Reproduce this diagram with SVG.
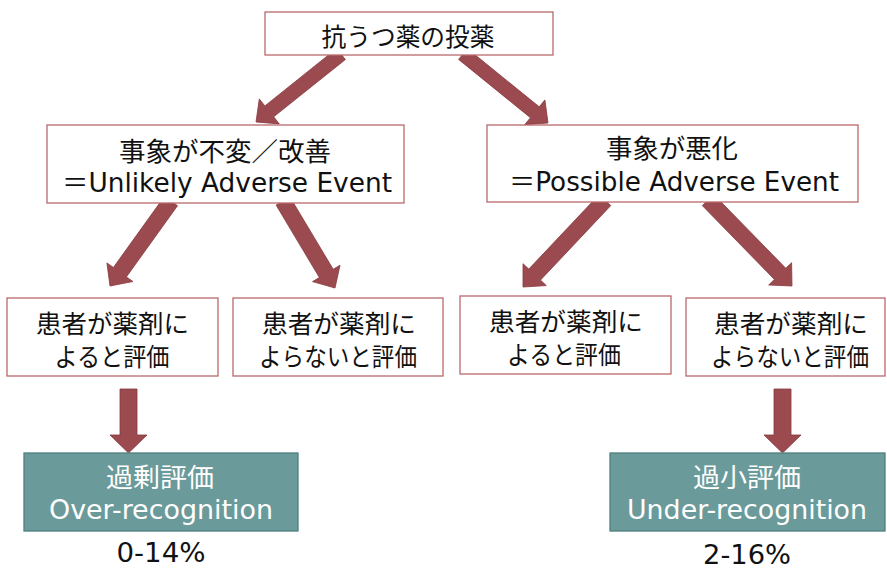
<svg xmlns="http://www.w3.org/2000/svg" width="887" height="570" viewBox="0 0 887 570">
<style>
.box{fill:#ffffff;stroke:#B8696C;stroke-width:1.3}
.res{fill:#6B9A9A;stroke:#4F7F7F;stroke-width:1.3}
.arr{fill:#9B4B4F;stroke:#86393D;stroke-width:0.8;stroke-linejoin:miter}
text{font-family:"DejaVu Sans","Noto Sans CJK JP",sans-serif;text-anchor:middle;fill:#111111}
.t25{font-size:25px}
.t26{font-size:26px}
.w{fill:#ffffff}
</style>
<rect width="887" height="570" fill="#ffffff"/>
<g id="connectors">
<polygon class="arr" points="336.6,48.5 264.9,105.9 259.3,98.9 256,122 279.3,123.9 273.7,116.8 345.4,59.5"/>
<polygon class="arr" points="458.6,59.4 530.4,117.7 524.7,124.7 548,123 544.9,99.9 539.2,106.8 467.4,48.6"/>
<polygon class="arr" points="164.5,196.3 113.4,267.5 106.9,262.9 110,286 132.9,281.5 126.4,276.9 177.5,205.7"/>
<polygon class="arr" points="276.1,205.1 319.4,277.5 312.5,281.6 335,288 340.0,265.2 333.2,269.3 289.9,196.9"/>
<polygon class="arr" points="599.2,194.5 528.8,269.1 523.0,263.7 523,287 546.3,285.6 540.5,280.1 610.8,205.5"/>
<polygon class="arr" points="702.3,205.6 774.4,279.4 768.7,285.0 792,286 791.6,262.7 785.8,268.3 713.7,194.4"/>
<polygon class="arr" points="120,389 137,389 137,435 147,435 128.5,453 110,435 120,435"/>
<polygon class="arr" points="774,389 791,389 791,435 801,435 782.5,453 764,435 774,435"/>
</g>
<g id="root">
<rect class="box" x="265" y="12" width="288" height="43"/>
<text class="t25" x="408" y="46" textLength="173" lengthAdjust="spacingAndGlyphs">抗うつ薬の投薬</text>
</g>
<g id="unlikely">
<rect class="box" x="47" y="125" width="357" height="78"/>
<text class="t26" x="225" y="161" textLength="212" lengthAdjust="spacingAndGlyphs">事象が不変／改善</text>
<text class="t26" x="227" y="192" textLength="330" lengthAdjust="spacingAndGlyphs">＝Unlikely Adverse Event</text>
</g>
<g id="possible">
<rect class="box" x="487" y="125" width="371" height="77"/>
<text class="t26" x="672" y="158" textLength="132" lengthAdjust="spacingAndGlyphs">事象が悪化</text>
<text class="t26" x="674" y="191" textLength="330" lengthAdjust="spacingAndGlyphs">＝Possible Adverse Event</text>
</g>
<g id="u-drug">
<rect class="box" x="7" y="298" width="211" height="78"/>
<text class="t25" x="112.5" y="333" textLength="153" lengthAdjust="spacingAndGlyphs">患者が薬剤に</text>
<text class="t25" x="112" y="366" textLength="115" lengthAdjust="spacingAndGlyphs">よると評価</text>
</g>
<g id="u-nodrug">
<rect class="box" x="233" y="298" width="210" height="78"/>
<text class="t25" x="339" y="333" textLength="154" lengthAdjust="spacingAndGlyphs">患者が薬剤に</text>
<text class="t25" x="338" y="366" textLength="158" lengthAdjust="spacingAndGlyphs">よらないと評価</text>
</g>
<g id="p-drug">
<rect class="box" x="460" y="296" width="211" height="78"/>
<text class="t25" x="566" y="331" textLength="154" lengthAdjust="spacingAndGlyphs">患者が薬剤に</text>
<text class="t25" x="564" y="364" textLength="114" lengthAdjust="spacingAndGlyphs">よると評価</text>
</g>
<g id="p-nodrug">
<rect class="box" x="686" y="298" width="199" height="78"/>
<text class="t25" x="791" y="333" textLength="154" lengthAdjust="spacingAndGlyphs">患者が薬剤に</text>
<text class="t25" x="790" y="366" textLength="158" lengthAdjust="spacingAndGlyphs">よらないと評価</text>
</g>
<g id="over">
<rect class="res" x="24" y="453" width="274" height="78"/>
<text class="t26 w" x="160" y="487" textLength="108" lengthAdjust="spacingAndGlyphs">過剰評価</text>
<text class="t26 w" x="161" y="519" textLength="224" lengthAdjust="spacingAndGlyphs">Over-recognition</text>
<text class="t26" x="161" y="562" textLength="89" lengthAdjust="spacingAndGlyphs">0-14%</text>
</g>
<g id="under">
<rect class="res" x="610" y="453" width="275" height="78"/>
<text class="t26 w" x="747" y="487" textLength="108" lengthAdjust="spacingAndGlyphs">過小評価</text>
<text class="t26 w" x="747" y="519" textLength="240" lengthAdjust="spacingAndGlyphs">Under-recognition</text>
<text class="t26" x="747" y="564" textLength="88" lengthAdjust="spacingAndGlyphs">2-16%</text>
</g>
</svg>
